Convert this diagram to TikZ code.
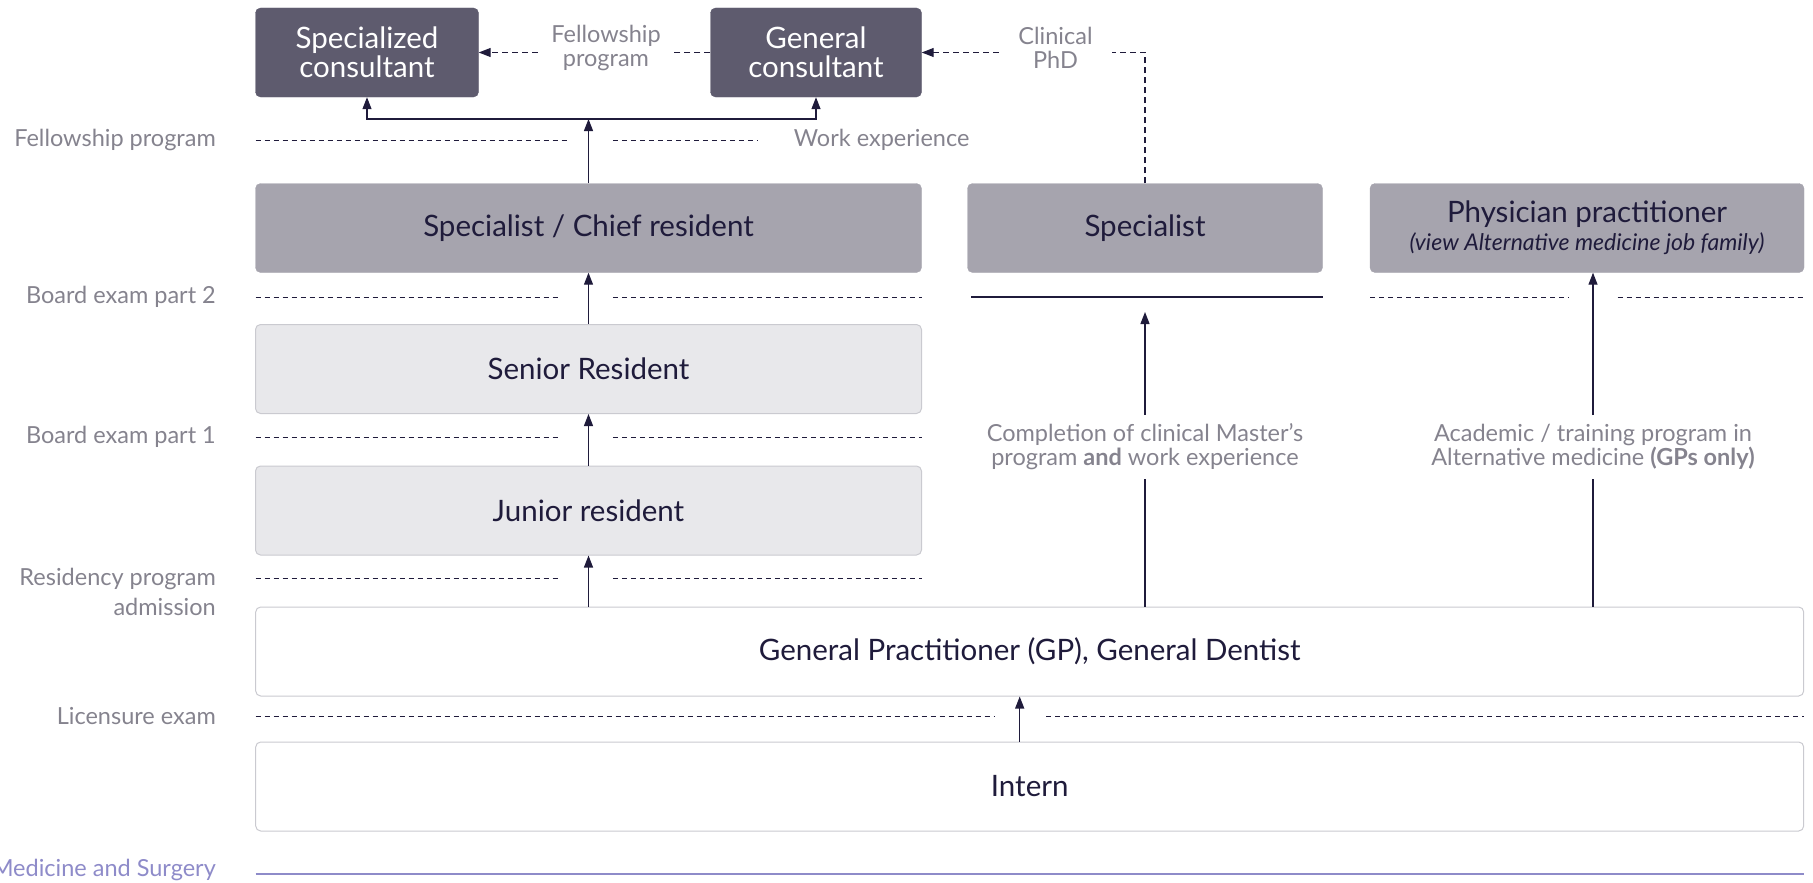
\documentclass[tikz,border=0pt]{standalone}
\usepackage{fontspec}
\setmainfont{Lato}
\usetikzlibrary{positioning,arrows.meta}

\definecolor{ink}{HTML}{1F1B3B}
\definecolor{dk}{HTML}{5E5B6E}
\definecolor{md}{HTML}{A6A4AE}
\definecolor{lt}{HTML}{E8E8EB}
\definecolor{edge}{HTML}{CACAD0}
\definecolor{lbl}{HTML}{85838E}
\definecolor{lav}{HTML}{8E8BC9}

\tikzset{
  box/.style={rounded corners=5pt, minimum height=89pt, align=center, inner sep=0pt,
    font=\fontsize{29.5}{29}\selectfont, text=ink},
  darkbox/.style={box, fill=dk, draw=dk, text=white},
  midbox/.style={box, fill=md, draw=md},
  ltbox/.style={box, fill=lt, draw=edge, line width=1pt},
  whbox/.style={box, fill=white, draw=edge, line width=1pt},
  lvl/.style={font=\fontsize{23.5}{30}\selectfont, text=lbl, inner sep=0pt},
  note/.style={font=\fontsize{23.5}{24}\selectfont, text=lbl, align=center, inner sep=9pt},
  lvldash/.style={draw=ink, line width=1pt, dash pattern=on 5pt off 4pt},
  dashc/.style={draw=ink, line width=1.1pt, dash pattern=on 6pt off 4pt},
  arr/.style={draw=ink, line width=1.2pt, -{Triangle[length=12pt,width=9pt]}},
}

\begin{document}
\begin{tikzpicture}[x=1pt,y=-1pt]
\useasboundingbox (0,0) rectangle (1813,883);

% consultants
\node[darkbox, minimum width=223pt] (spc) at (367,52.5) {Specialized\\consultant};
\node[darkbox, minimum width=211pt] (gen) at (816,52.5) {General\\consultant};

% specialist row
\node[midbox, minimum width=666pt] (chief) at (588.5,228) {Specialist / Chief resident};
\node[midbox, minimum width=355pt] (spec) at (1145,228) {Specialist};
\node[midbox, minimum width=434pt] (phys) at (1587,228)
  {Physician practitioner\\[-1pt]{\itshape\fontsize{23}{24}\selectfont (view Alternative medicine job family)}};

% residents
\node[ltbox, minimum width=666pt] (senior) at (588.5,369) {Senior Resident};
\node[ltbox, minimum width=666pt] (junior) at (588.5,510.5) {Junior resident};

% base
\node[whbox, minimum width=1548pt] (gp) at (1029.7,651.5) {General Practitioner (GP), General Dentist};
\node[whbox, minimum width=1548pt] (intern) at (1029.7,786.5) {Intern};

% level labels
\node[lvl, anchor=east] (lfel) at (216,140) {Fellowship program};
\node[lvl, anchor=east] (lbe2) at (216,297) {Board exam part 2};
\node[lvl, anchor=east] (lbe1) at (216,437) {Board exam part 1};
\node[lvl, anchor=east, align=right] (lres) at (216,592) {Residency program\\admission};
\node[lvl, anchor=east] (llic) at (216,716) {Licensure exam};
\node[lvl, anchor=east, text=lav] (lmed) at (216,870) {Medicine and Surgery};

% level lines
\draw[lvldash] (255.5,140) -- (566.6,140);
\draw[lvldash] (612.8,140) -- (757.4,140);
\node[lvl] (wexp) at (881.7,140) {Work experience};
\foreach \y in {297,437,578} {
  \draw[lvldash] (255.5,\y) -- (561,\y);
  \draw[lvldash] (612.8,\y) -- (921.6,\y);
}
\draw[ink, line width=1.2pt] (971.3,297) -- (1322.8,297);
\draw[lvldash] (1370,297) -- (1569,297);
\draw[lvldash] (1617.6,297) -- (1803.8,297);
\draw[lvldash] (255.5,716) -- (994.4,716);
\draw[lvldash] (1046.4,716) -- (1803.8,716);
\draw[lav, line width=1.5pt] (255.5,874) -- (1803.8,874);

% ladder arrows
\draw[arr] (senior.north) -- (chief.south);
\draw[arr] (junior.north) -- (senior.south);
\draw[arr] (gp.north -| junior) -- (junior.south);
\draw[arr] ([xshift=-10pt]intern.north) -- ([xshift=-10pt]gp.south);

% split to consultants
\coordinate (jn) at (588.5,119);
\draw[arr] (chief.north) -- (jn);
\draw[arr] (jn) -| (spc.south);
\draw[arr] (jn) -| (gen.south);

% fellowship / PhD
\node[note, inner sep=0pt, minimum width=136pt] (fel) at (606,48) {Fellowship\\program};
\draw[dashc, -{Triangle[length=12pt,width=9pt]}] (fel.west |- spc.east) -- (spc.east);
\draw[dashc] (gen.west) -- (fel.east |- gen.west);
\node[note, inner sep=0pt, minimum width=113pt] (phd) at (1055.5,48) {Clinical\\PhD};
\draw[dashc] (spec.north) |- (phd.east |- gen.east);
\draw[dashc, -{Triangle[length=12pt,width=9pt]}] (phd.west |- gen.east) -- (gen.east);

% side routes
\coordinate (bartip) at (1145,312);
\node[note] (mst) at (1145,447) {Completion of clinical Master's\\program \textbf{and} work experience};
\draw[arr] (mst.north) -- (bartip);
\draw[ink, line width=1.2pt] (gp.north -| mst) -- (mst.south);
\node[note] (alt) at (1593,447) {Academic / training program in\\Alternative medicine \textbf{(GPs only)}};
\draw[arr] (alt.north) -- (alt.north |- phys.south);
\draw[ink, line width=1.2pt] (gp.north -| alt) -- (alt.south);

\end{tikzpicture}
\end{document}
